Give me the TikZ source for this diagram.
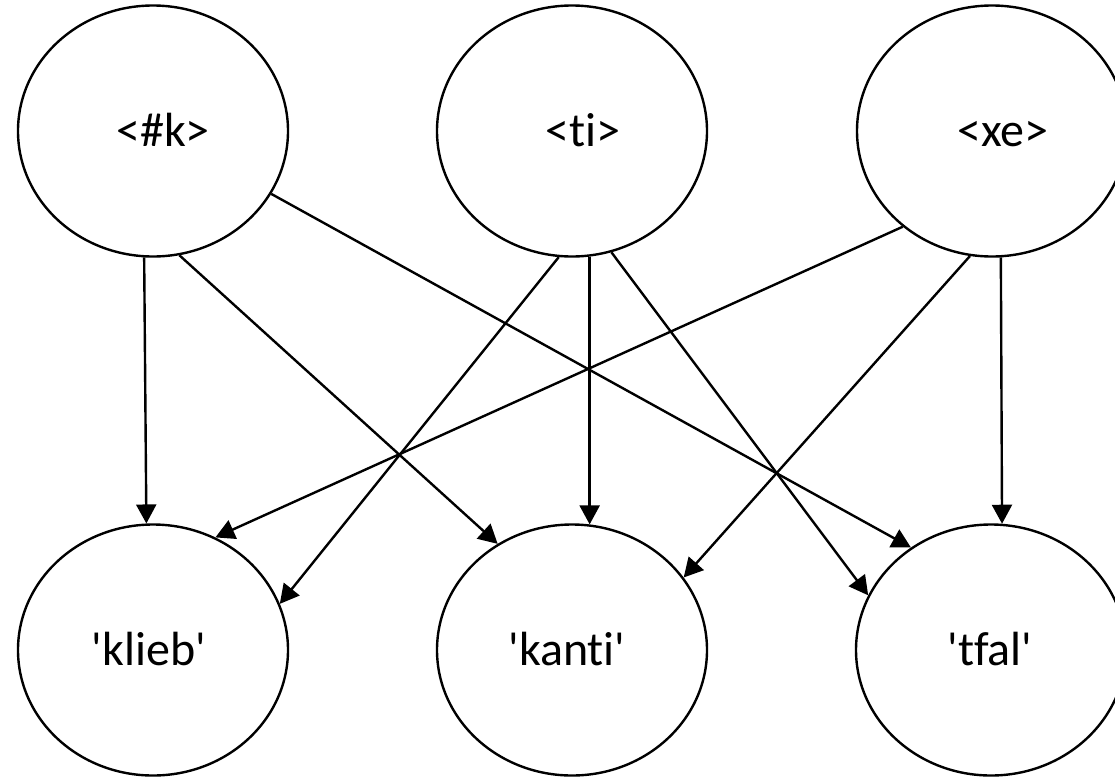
\documentclass[tikz,border=0pt]{standalone}
\usepackage{fontspec}
\setmainfont{Carlito}[Ligatures={NoCommon,NoRequired,NoContextual}]
\usetikzlibrary{shapes.geometric,arrows.meta}
\begin{document}
\begin{tikzpicture}[x=1pt,y=-1pt,
  blob/.style={ellipse,draw,line width=2.4pt,minimum width=270pt,minimum height=251pt,inner sep=0pt},
  txt/.style={font=\fontsize{48}{56}\selectfont,text height=33pt,text depth=9pt,inner sep=0pt},
  conn/.style={line width=2.4pt,-{Triangle[length=19pt,width=20pt]}}]
\clip (0,0) rectangle (1115,777);
% top row
\node[blob,label={[txt,xshift=10pt,yshift=-3pt]center:<\#k>}] (k) at (153,131) {};
\node[blob,label={[txt,xshift=11pt,yshift=-3pt]center:<ti>}] (ti) at (572,131) {};
\node[blob,label={[txt,xshift=11pt,yshift=-3pt]center:<xe>}] (xe) at (992,131) {};
% bottom row
\node[blob,label={[txt,xshift=-4pt,yshift=-3pt]center:\textquotesingle klieb\textquotesingle}] (klieb) at (153,650) {};
\node[blob,label={[txt,xshift=-5pt,yshift=-3pt]center:\textquotesingle kanti\textquotesingle}] (kanti) at (572,650) {};
\node[blob,label={[txt,xshift=-1pt,yshift=-3pt]center:\textquotesingle tfal\textquotesingle}] (tfal) at (991,650) {};
% connectors
\draw[conn] (k.266.3) -- (klieb.93.7);
\draw[conn] (k.-78.6) -- (kanti.125.7);
\draw[conn] (k.-28.1) -- (tfal.128.8);
\draw[conn] (ti.-96.7) -- (klieb.20.2);
\draw[conn] (ti.-82.7) -- (kanti.82.7);
\draw[conn] (ti.-72.8) -- (tfal.156.7);
\draw[conn] (xe.-133.5) -- (klieb.61.4);
\draw[conn] (xe.-100.7) -- (kanti.33.8);
\draw[conn] (xe.-86.3) -- (tfal.85.9);
\end{tikzpicture}
\end{document}
